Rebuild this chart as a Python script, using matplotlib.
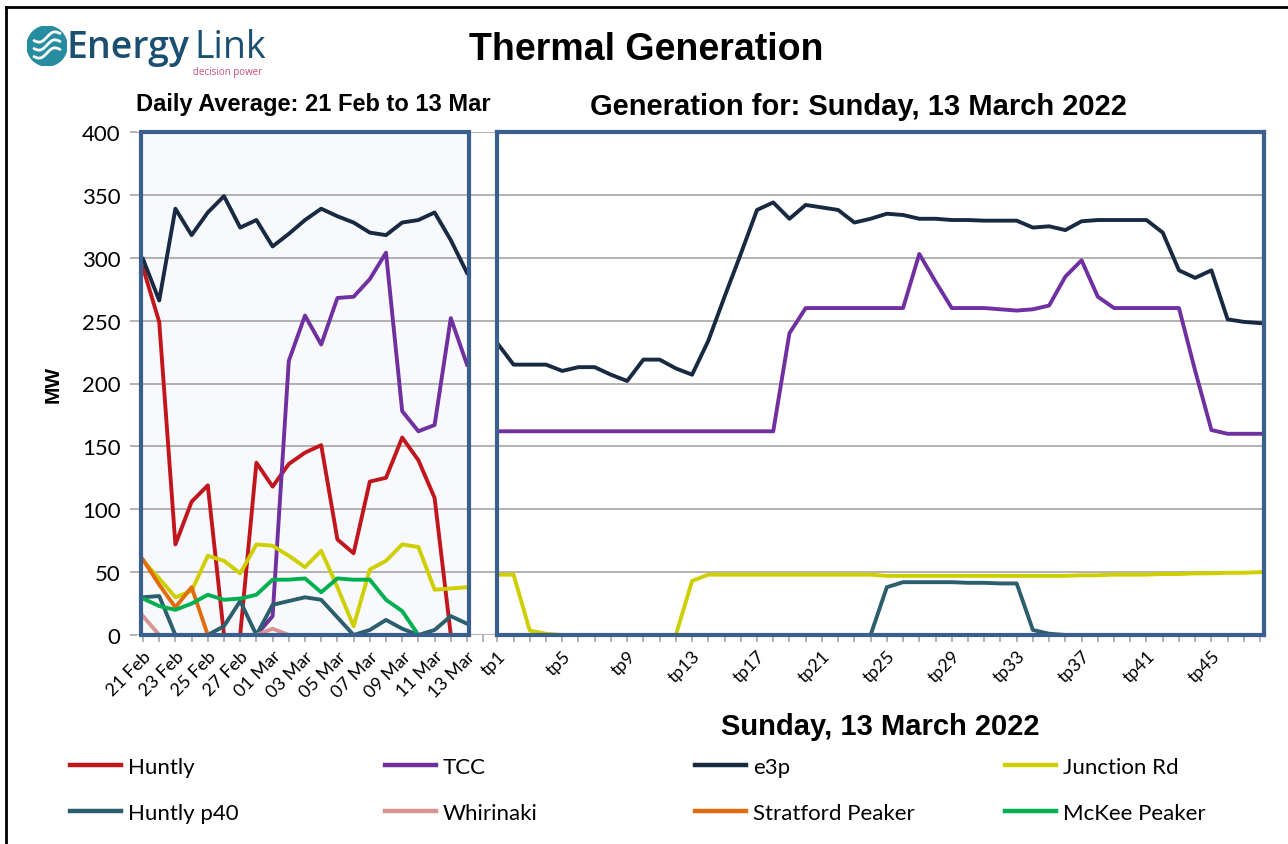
import matplotlib.pyplot as plt
import numpy as np
from matplotlib.patches import Rectangle, Circle
from matplotlib.lines import Line2D

# Daily averages, 21 Feb to 13 Mar (21 days)
day_labels = ["21 Feb", "23 Feb", "25 Feb", "27 Feb", "01 Mar", "03 Mar",
              "05 Mar", "07 Mar", "09 Mar", "11 Mar", "13 Mar"]
huntly_d = [292, 249, 72, 106, 119, 0, 0, 137, 118, 136, 145, 151, 76, 65, 122, 125, 157, 139, 109, 0, 0]
tcc_d = [0, 0, 0, 0, 0, 0, 0, 0, 15, 218, 254, 231, 268, 269, 283, 304, 178, 162, 167, 252, 215]
e3p_d = [299, 266, 339, 318, 336, 349, 324, 330, 309, 319, 330, 339, 333, 328, 320, 318, 328, 330, 336, 314, 288]
junction_d = [59, 45, 30, 35, 63, 59, 49, 72, 71, 63, 54, 67, 38, 7, 52, 59, 72, 70, 36, 37, 38]
p40_d = [30, 31, 0, 0, 0, 7, 27, 0, 24, 27, 30, 28, 14, 0, 4, 12, 5, 0, 4, 15, 9]
whirinaki_d = [15, 0, 0, 0, 0, 0, 0, 0, 5, 0, 0, 0, 0, 0, 0, 0, 0, 0, 0, 0, 0]
stratford_d = [60, 40, 22, 38, 0, 0, 0, 0, 0, 0, 0, 0, 0, 0, 0, 0, 0, 0, 0, 0, 0]
mckee_d = [29, 23, 20, 25, 32, 28, 29, 32, 44, 44, 45, 34, 45, 44, 44, 28, 19, 0, 0, 0, 0]

# Trading periods, Sunday 13 March 2022 (tp1..tp48)
huntly_tp = [0] * 48
tcc_tp = [162] * 18 + [240, 260, 260, 260, 260, 260, 260, 260, 303, 281, 260, 260, 260,
                       259, 258, 259, 262, 285, 298, 269, 260, 260, 260, 260, 260,
                       210, 163, 160, 160, 160]
e3p_tp = [232, 215, 215, 215, 210, 213, 213, 207, 202, 219,
          219, 212, 207, 234, 269, 303, 338, 344, 331, 342,
          340, 338, 328, 331, 335, 334, 331, 331, 330, 330,
          329.5, 329.5, 329.5, 324, 325, 322, 329, 330, 330, 330,
          330, 320, 290, 284, 290, 251, 249, 248]
junction_tp = [48, 48, 3.5, 1, 0, 0, 0, 0, 0, 0, 0, 0, 43, 48,
               48, 48, 48, 48, 48, 48, 48, 48, 48, 48,
               47, 47, 47, 47, 47, 47, 47, 47, 47, 47, 47, 47,
               47.5, 47.5, 48, 48, 48, 48.5, 48.5, 49, 49, 49.5, 49.5, 50]
p40_tp = [0] * 24 + [38, 42, 42, 42, 42, 41.5, 41.5, 41, 41, 4, 1] + [0] * 13
whirinaki_tp = [0] * 48
stratford_tp = [0] * 48
mckee_tp = [0] * 48

names = ["Huntly", "TCC", "e3p", "Junction Rd", "Huntly p40", "Whirinaki",
         "Stratford Peaker", "McKee Peaker"]
colors = ["#c0161c", "#7030a0", "#172a42", "#cfcf00", "#2b5f6e", "#d99594",
          "#e36c0a", "#00b050"]
daily = [huntly_d, tcc_d, e3p_d, junction_d, p40_d, whirinaki_d, stratford_d, mckee_d]
periods = [huntly_tp, tcc_tp, e3p_tp, junction_tp, p40_tp, whirinaki_tp, stratford_tp, mckee_tp]

W, H = 1288, 845
fig = plt.figure(figsize=(W / 100, H / 100), dpi=100)
frame_blue = "#3a5f8c"
grid_gray = "#a6a6a6"
tick_font = "Lato"
line_w = 2.8


def fx(px):
    return px / W


def fy(py):
    return 1 - py / H


# outer border (top and left only)
fig.add_artist(Line2D([fx(6), 1], [fy(8), fy(8)], color="black", lw=2))
fig.add_artist(Line2D([fx(6), fx(6)], [fy(8), 0], color="black", lw=2))

# ---- left panel: daily averages ----
axl = fig.add_axes([fx(137), fy(636), fx(497) - fx(137), fy(133) - fy(636)])
days = np.arange(len(e3p_d))
px_day = 16.2
axl.set_xlim((137 - 143) / px_day, (497 - 143) / px_day)
axl.set_ylim(0, 400)
axl.add_patch(Rectangle((-0.12, 0), 20.24, 400, facecolor="#f7f9fc",
                        edgecolor="none", zorder=0.5))
axl.add_patch(Rectangle((-0.12, 0), 20.24, 400, facecolor="none",
                        edgecolor=frame_blue, lw=3, zorder=4, clip_on=False))
axl.set_axisbelow("line")
axl.yaxis.grid(True, color=grid_gray, lw=1.2)
for vals, c in zip(daily, colors):
    axl.plot(days, vals, color=c, lw=line_w, zorder=2)
for s in axl.spines.values():
    s.set_visible(False)
axl.set_yticks(np.arange(0, 401, 50))
axl.set_xticks(np.arange(0, 21, 2))
axl.set_xticklabels(day_labels, rotation=45, ha="right", rotation_mode="anchor")
axl.set_xticks(np.arange(0, 22), minor=True)
axl.tick_params(axis="both", which="both", color=grid_gray, length=5, width=1.2)
axl.tick_params(axis="x", labelsize=13, pad=4)
axl.tick_params(axis="y", labelsize=16, pad=7)
for lab in axl.get_xticklabels() + axl.get_yticklabels():
    lab.set_fontfamily(tick_font)
axl.set_ylabel("MW", fontsize=15, fontweight="bold", family="Liberation Sans", labelpad=14)

# ---- right panel: trading periods ----
axr = fig.add_axes([fx(497), fy(636), fx(1264) - fx(497), fy(133) - fy(636)])
tps = np.arange(1, 49)
axr.set_xlim(0.98, 48.24)
axr.set_ylim(0, 400)
axr.set_axisbelow(True)
axr.yaxis.grid(True, color=grid_gray, lw=1.2)
for vals, c in zip(periods, colors):
    axr.plot(tps, vals, color=c, lw=line_w, zorder=2)
for s in axr.spines.values():
    s.set_color(frame_blue)
    s.set_linewidth(3)
    s.set_zorder(4)
axr.set_yticks(np.arange(0, 401, 50))
axr.tick_params(axis="y", left=False, labelleft=False)
axr.set_xticks(np.arange(1, 48, 4))
axr.set_xticklabels(["tp%d" % t for t in range(1, 48, 4)], rotation=45,
                    ha="right", rotation_mode="anchor")
axr.set_xticks(tps, minor=True)
axr.tick_params(axis="x", which="both", color=grid_gray, length=5, width=1.2)
axr.tick_params(axis="x", labelsize=13, pad=4)
for lab in axr.get_xticklabels():
    lab.set_fontfamily(tick_font)

# ---- titles ----
fig.text(fx(646), fy(50), "Thermal Generation", fontsize=27, fontweight="bold",
         family="Liberation Sans", ha="center", va="center")
fig.text(fx(136), fy(104), "Daily Average: 21 Feb to 13 Mar", fontsize=17,
         fontweight="bold", family="Liberation Sans", ha="left", va="center")
fig.text(fx(858), fy(107), "Generation for: Sunday, 13 March 2022", fontsize=21,
         fontweight="bold", family="Liberation Sans", ha="center", va="center")
fig.text(fx(880), fy(727), "Sunday, 13 March 2022", fontsize=21,
         fontweight="bold", family="Liberation Sans", ha="center", va="center")

# ---- logo ----
axlogo = fig.add_axes([fx(27), fy(67), fx(40), fy(27) - fy(67)])
axlogo.set_xlim(-1, 1)
axlogo.set_ylim(-1, 1)
axlogo.set_aspect("equal")
axlogo.axis("off")
axlogo.add_patch(Circle((0, 0), 1, color="#268ca0"))
t = np.linspace(-0.65, 0.65, 50)
for off in (-0.35, 0.05, 0.45):
    axlogo.plot(t, off + 0.15 * np.sin(t * 5) + 0.3 * t, color="white", lw=2.0,
                solid_capstyle="round")
fig.text(fx(66), fy(48), "Energy", fontsize=27, color="#1b4f72",
         family="Open Sans", fontweight="semibold", ha="left", va="center")
fig.text(fx(194), fy(48), "Link", fontsize=27, color="#1b4f72",
         family="Open Sans", ha="left", va="center")
fig.text(fx(262), fy(73), "decision power", fontsize=7, color="#c8506e",
         family="Open Sans", ha="right", va="center")

# ---- legend: four columns, two rows ----
handles = [Line2D([], [], color=c, lw=3.2) for c in colors]
col_x = [70, 385, 695, 1005]
for i, x in enumerate(col_x):
    idx = [i, i + 4]
    fig.legend([handles[j] for j in idx], [names[j] for j in idx],
               loc="center left", bbox_to_anchor=(fx(x), fy(791)),
               frameon=False, prop={"family": "Lato", "size": 16},
               handlelength=2.3, handletextpad=0.3, labelspacing=1.15,
               borderpad=0, borderaxespad=0)

fig.savefig("out.png", dpi=100)
